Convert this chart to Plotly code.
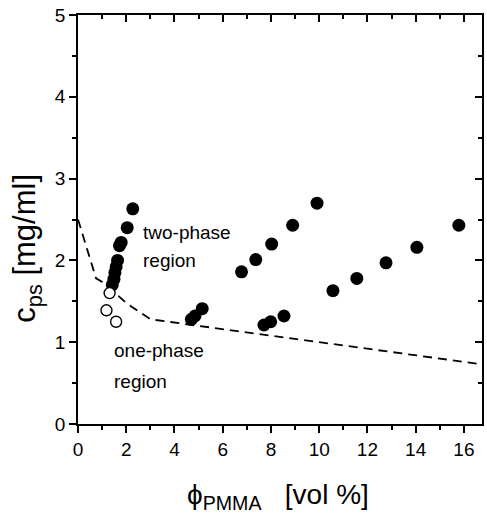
import plotly.graph_objects as go

# filled circles: two-phase samples
filled_x = [2.27, 2.04, 1.79, 1.72, 1.64, 1.58, 1.53, 1.49, 1.42,
            4.70, 4.85, 5.15, 7.71, 7.99, 8.54,
            6.78, 7.37, 8.03, 8.90, 9.91,
            10.57, 11.56, 12.77, 14.05, 15.79]
filled_y = [2.63, 2.40, 2.22, 2.18, 2.00, 1.92, 1.85, 1.77, 1.70,
            1.28, 1.32, 1.41, 1.21, 1.25, 1.32,
            1.86, 2.01, 2.20, 2.43, 2.70,
            1.63, 1.78, 1.97, 2.16, 2.43]

# open circles: one-phase samples
open_x = [1.31, 1.18, 1.58]
open_y = [1.60, 1.39, 1.25]

# dashed phase boundary
line_x = [0.0, 0.75, 1.1, 2.0, 3.0, 4.0, 17.0]
line_y = [2.50, 1.78, 1.72, 1.48, 1.28, 1.24, 0.72]

x_ticks = [0, 2, 4, 6, 8, 10, 12, 14, 16]
y_ticks = [0, 1, 2, 3, 4, 5]

FONT = "Liberation Sans, Arial, sans-serif"

fig = go.Figure()
fig.add_trace(go.Scatter(x=line_x, y=line_y, mode="lines",
                         line=dict(color="black", width=1.8, dash="9px,6px"),
                         showlegend=False, hoverinfo="skip"))
fig.add_trace(go.Scatter(x=filled_x, y=filled_y, mode="markers",
                         marker=dict(size=13, color="black"),
                         showlegend=False))
fig.add_trace(go.Scatter(x=open_x, y=open_y, mode="markers",
                         marker=dict(size=11, color="white",
                                     line=dict(color="black", width=1.4)),
                         showlegend=False))
# empty traces to activate the top and right tick axes
fig.add_trace(go.Scatter(x=[], y=[], xaxis="x2", yaxis="y", showlegend=False))
fig.add_trace(go.Scatter(x=[], y=[], xaxis="x", yaxis="y2", showlegend=False))

axis_common = dict(showgrid=False, zeroline=False, linecolor="black", linewidth=1.8,
                   tickcolor="black", tickwidth=1.8, ticklen=7, automargin=False,
                   ticklabeloverflow="allow")

fig.update_layout(
    width=487, height=518,
    margin=dict(l=78, r=5, t=15, b=94),
    paper_bgcolor="white", plot_bgcolor="white",
    font=dict(family=FONT, color="black", size=19),
    xaxis=dict(range=[0, 16.75], tickvals=x_ticks, ticks="outside",
               showline=True, mirror=True,
               minor=dict(ticks="outside", dtick=1, ticklen=4, tickwidth=1.5, tickcolor="black"),
               tickfont=dict(size=19), **axis_common),
    yaxis=dict(range=[0, 5], tickvals=y_ticks, ticks="outside",
               showline=True, mirror=True,
               minor=dict(ticks="outside", dtick=0.5, ticklen=4, tickwidth=1.5, tickcolor="black"),
               tickfont=dict(size=19), **axis_common),
    xaxis2=dict(range=[0, 16.75], overlaying="x", side="top", anchor="y", tickvals=x_ticks,
                ticks="inside", showticklabels=False, showline=True,
                minor=dict(ticks="inside", dtick=1, ticklen=4, tickwidth=1.5, tickcolor="black"),
                **axis_common),
    yaxis2=dict(range=[0, 5], overlaying="y", side="right", anchor="x", tickvals=y_ticks,
                ticks="inside", showticklabels=False, showline=True,
                minor=dict(ticks="inside", dtick=0.5, ticklen=4, tickwidth=1.5, tickcolor="black"),
                **axis_common),
)

# axis titles
fig.add_annotation(xref="paper", yref="paper", x=-0.125, y=0.43,
                   text="c<sub>ps</sub> [mg/ml]", textangle=-90, showarrow=False,
                   xanchor="center", yanchor="middle",
                   font=dict(family=FONT, size=31, color="black"))
fig.add_annotation(xref="paper", yref="paper", x=0.495, y=-0.178,
                   text="\u03d5<sub>PMMA</sub>   [vol %]", showarrow=False,
                   xanchor="center", yanchor="middle",
                   font=dict(family=FONT, size=28, color="black"))

ann_font = dict(family=FONT, size=19, color="black")
for txt, x, y in [("two-phase", 2.63, 2.34), ("region", 2.63, 2.0),
                  ("one-phase", 1.43, 0.90), ("region", 1.43, 0.52)]:
    fig.add_annotation(x=x, y=y, text=txt, showarrow=False, xanchor="left",
                       yanchor="middle", font=ann_font)

# remove the browser's default 8px body margin so the figure fills the window
fig.write_html("out.html", config={"displayModeBar": False},
               post_script="document.body.style.margin='0px';document.body.style.overflow='hidden';")
